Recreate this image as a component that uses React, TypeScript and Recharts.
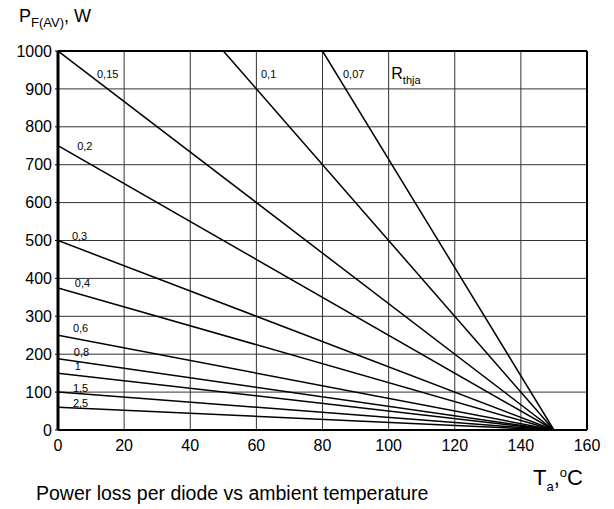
import { LineChart, Line, XAxis, YAxis, CartesianGrid, ReferenceLine, ReferenceDot } from 'recharts';

// thermal resistance R_thja of each line, as printed on the chart
const rLabels = ['0,15', '0,2', '0,3', '0,4', '0,6', '0,8', '1', '1,5', '2,5', '0,1', '0,07'];
// where each line starts (Ta, °C / P, W) and where it reaches zero
const startTa = [0, 0, 0, 0, 0, 0, 0, 0, 0, 50, 80];
const startP = [1000, 750, 500, 375, 250, 188, 150, 100, 60, 1000, 1000];
const endTa = [150, 150, 150, 150, 150, 150, 150, 150, 150, 150, 150];

// label anchors in data units (left edge, baseline)
const labelTa = [11.8, 5.8, 4.2, 5.1, 4.5, 4.8, 5.1, 4.5, 4.5, 61.4, 86.2];
const labelP = [930, 739, 501, 377, 258, 194, 157, 99, 62, 930, 930];

const xTicks = [0, 20, 40, 60, 80, 100, 120, 140, 160];
const yTicks = [0, 100, 200, 300, 400, 500, 600, 700, 800, 900, 1000];

const font = '"Liberation Sans", Arial, sans-serif';

const series = rLabels.map((name, i) => ({
  name,
  data: [
    { t: startTa[i], p: startP[i] },
    { t: endTa[i], p: 0 },
  ],
}));

export default function App() {
  return (
    <div style={{ position: 'absolute', left: 0, top: 0, width: 614, height: 509, background: '#fff', fontFamily: font }}>
      <LineChart width={614} height={509} margin={{ top: 51, right: 27, bottom: 49, left: 0 }}>
        <CartesianGrid stroke="#333" strokeWidth={1} />
        <XAxis
          type="number"
          dataKey="t"
          domain={[0, 160]}
          ticks={xTicks}
          height={30}
          axisLine={{ stroke: '#000', strokeWidth: 2 }}
          tickLine={false}
          tickSize={4}
          tickMargin={6}
          tick={{ fill: '#000', fontSize: 16, fontFamily: font }}
          allowDataOverflow
        />
        <YAxis
          type="number"
          dataKey="p"
          domain={[0, 1000]}
          ticks={yTicks}
          width={58}
          axisLine={{ stroke: '#000', strokeWidth: 3 }}
          tickLine={{ stroke: '#000' }}
          tickSize={3}
          tickMargin={3}
          tick={{ fill: '#000', fontSize: 16, fontFamily: font }}
          allowDataOverflow
        />
        <ReferenceLine y={1000} stroke="#000" strokeWidth={2} />
        <ReferenceLine x={160} stroke="#000" strokeWidth={2} />
        {series.map((s) => (
          <Line
            key={s.name}
            data={s.data}
            dataKey="p"
            type="linear"
            stroke="#000"
            strokeWidth={1.5}
            dot={false}
            activeDot={false}
            isAnimationActive={false}
          />
        ))}
        {rLabels.map((name, i) => (
          <ReferenceDot
            key={'l' + name}
            x={labelTa[i]}
            y={labelP[i]}
            shape={(props: any) => (
              <text x={props.cx} y={props.cy} fontSize={11} fontFamily={font} fill="#000">
                {name}
              </text>
            )}
          />
        ))}
        <ReferenceDot
          x={100.8}
          y={930}
          shape={(props: any) => (
            <text x={props.cx} y={props.cy + 1} fontSize={16} fontFamily={font} fill="#000">
              R<tspan fontSize={11} dy={5}>thja</tspan>
            </text>
          )}
        />
      </LineChart>
      <div style={{ position: 'absolute', left: 19, top: 6, fontSize: 18, color: '#000', whiteSpace: 'nowrap' }}>
        P<sub style={{ fontSize: 13 }}>F(AV)</sub>, W
      </div>
      <div style={{ position: 'absolute', left: 533, top: 465, fontSize: 22, color: '#000', whiteSpace: 'nowrap' }}>
        T<sub style={{ fontSize: 13 }}>a</sub>,<sup style={{ fontSize: 13 }}>o</sup>C
      </div>
      <div style={{ position: 'absolute', left: 36, top: 482, fontSize: 19.5, color: '#000', whiteSpace: 'nowrap' }}>
        Power loss per diode vs ambient temperature
      </div>
    </div>
  );
}
